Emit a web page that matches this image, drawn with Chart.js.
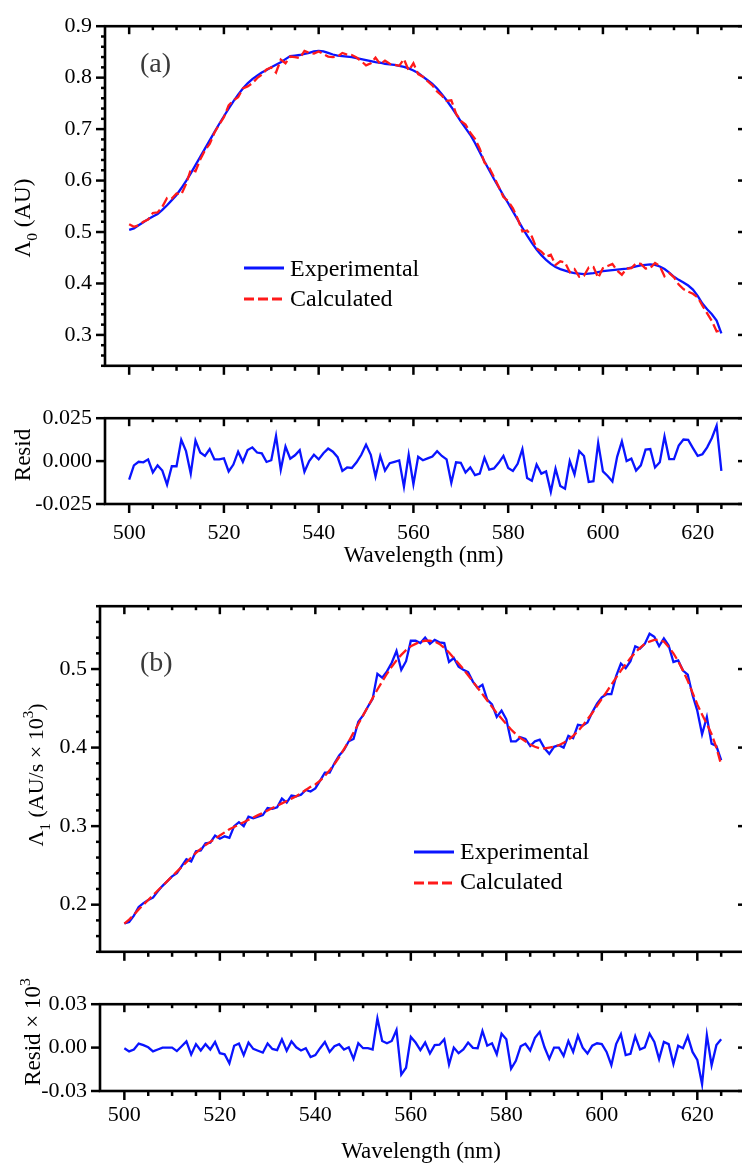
<!DOCTYPE html>
<html>
<head>
<meta charset="utf-8">
<script src="https://cdn.jsdelivr.net/npm/chart.js@4.4.0/dist/chart.umd.min.js"></script>
<style>
  html, body { margin: 0; padding: 0; background: #fff; overflow: hidden; width: 742px; height: 1164px; }
  .box { position: absolute; left: 0; width: 760px; }
  canvas { display: block; }
</style>
</head>
<body>
<div class="box" style="top:0px"><canvas id="chartA" width="760" height="392"></canvas></div>
<div class="box" style="top:392px"><canvas id="residA" width="760" height="188"></canvas></div>
<div class="box" style="top:580px"><canvas id="chartB" width="760" height="398"></canvas></div>
<div class="box" style="top:978px"><canvas id="residB" width="760" height="186"></canvas></div>
<script>
// ----- data (1 nm steps) -----
const wavelength = [
  500,501,502,503,504,505,506,507,508,509,510,511,512,513,514,515,516,517,518,519,
  520,521,522,523,524,525,526,527,528,529,530,531,532,533,534,535,536,537,538,539,
  540,541,542,543,544,545,546,547,548,549,550,551,552,553,554,555,556,557,558,559,
  560,561,562,563,564,565,566,567,568,569,570,571,572,573,574,575,576,577,578,579,
  580,581,582,583,584,585,586,587,588,589,590,591,592,593,594,595,596,597,598,599,
  600,601,602,603,604,605,606,607,608,609,610,611,612,613,614,615,616,617,618,619,
  620,621,622,623,624,625
];

// (a) Lambda_0
const expA = [
  0.504,0.507,0.513,0.519,0.525,0.530,0.535,0.543,0.552,0.562,
  0.572,0.585,0.599,0.614,0.630,0.646,0.662,0.678,0.694,0.710,
  0.725,0.740,0.754,0.767,0.779,0.789,0.797,0.804,0.810,0.815,
  0.820,0.825,0.830,0.836,0.842,0.843,0.844,0.846,0.848,0.851,
  0.852,0.851,0.848,0.845,0.843,0.842,0.841,0.840,0.838,0.836,
  0.834,0.832,0.830,0.829,0.827,0.826,0.825,0.823,0.821,0.818,
  0.814,0.809,0.802,0.795,0.788,0.779,0.768,0.756,0.743,0.729,
  0.715,0.702,0.689,0.673,0.655,0.637,0.620,0.603,0.587,0.571,
  0.556,0.540,0.524,0.508,0.493,0.479,0.466,0.455,0.446,0.438,
  0.432,0.428,0.425,0.422,0.420,0.419,0.418,0.419,0.420,0.422,
  0.424,0.425,0.426,0.427,0.428,0.429,0.431,0.433,0.435,0.436,
  0.437,0.436,0.433,0.428,0.421,0.413,0.407,0.402,0.396,0.388,
  0.376,0.361,0.350,0.340,0.328,0.303
];
const calcA = [
  0.515,0.510,0.513,0.520,0.524,0.537,0.538,0.549,0.566,0.565,
  0.575,0.573,0.593,0.621,0.618,0.641,0.659,0.671,0.693,0.709,
  0.723,0.746,0.756,0.762,0.779,0.783,0.789,0.799,0.806,0.816,
  0.820,0.810,0.835,0.828,0.841,0.840,0.838,0.852,0.848,0.847,
  0.851,0.846,0.841,0.840,0.841,0.848,0.845,0.844,0.839,0.832,
  0.824,0.828,0.839,0.826,0.833,0.827,0.825,0.823,0.836,0.814,
  0.828,0.807,0.802,0.793,0.785,0.773,0.765,0.755,0.756,0.730,
  0.716,0.709,0.693,0.681,0.662,0.635,0.625,0.607,0.588,0.568,
  0.560,0.546,0.526,0.501,0.503,0.491,0.468,0.462,0.452,0.456,
  0.436,0.443,0.441,0.422,0.428,0.413,0.415,0.431,0.432,0.411,
  0.430,0.434,0.438,0.425,0.417,0.429,0.430,0.439,0.438,0.429,
  0.430,0.440,0.434,0.414,0.420,0.412,0.398,0.389,0.384,0.380,
  0.373,0.357,0.342,0.327,0.307,0.309
];
const residA = [
  -0.0108,-0.0025,-0.0004,-0.0007,0.0010,-0.0066,-0.0025,-0.0055,-0.0137,-0.0030,
  -0.0030,0.0124,0.0058,-0.0073,0.0120,0.0050,0.0030,0.0070,0.0010,0.0010,
  0.0016,-0.0060,-0.0020,0.0055,-0.0004,0.0064,0.0080,0.0050,0.0045,-0.0005,
  0.0005,0.0147,-0.0050,0.0085,0.0014,0.0034,0.0064,-0.0062,0.0000,0.0037,
  0.0010,0.0046,0.0073,0.0055,0.0023,-0.0057,-0.0037,-0.0040,-0.0007,0.0037,
  0.0096,0.0037,-0.0090,0.0030,-0.0055,-0.0012,-0.0004,0.0004,-0.0149,0.0037,
  -0.0135,0.0025,0.0005,0.0016,0.0027,0.0058,0.0030,0.0010,-0.0126,-0.0007,
  -0.0010,-0.0066,-0.0037,-0.0082,-0.0073,0.0020,-0.0050,-0.0043,-0.0010,0.0030,
  -0.0040,-0.0057,-0.0016,0.0070,-0.0099,-0.0115,-0.0020,-0.0073,-0.0060,-0.0179,
  -0.0044,-0.0145,-0.0161,0.0000,-0.0078,0.0058,0.0030,-0.0122,-0.0117,0.0106,
  -0.0060,-0.0087,-0.0119,0.0025,0.0115,0.0000,0.0014,-0.0055,-0.0025,0.0067,
  0.0070,-0.0037,-0.0007,0.0144,0.0012,0.0012,0.0090,0.0126,0.0124,0.0076,
  0.0030,0.0040,0.0080,0.0135,0.0207,-0.0057
];

// (b) Lambda_1
const expB = [
  0.176,0.178,0.186,0.197,0.202,0.206,0.209,0.217,0.224,0.230,
  0.236,0.240,0.249,0.258,0.255,0.268,0.269,0.278,0.279,0.288,
  0.284,0.287,0.285,0.300,0.305,0.300,0.312,0.310,0.312,0.314,
  0.323,0.322,0.324,0.335,0.330,0.339,0.338,0.340,0.346,0.344,
  0.348,0.358,0.368,0.368,0.380,0.390,0.397,0.408,0.411,0.433,
  0.441,0.452,0.462,0.494,0.489,0.497,0.508,0.523,0.499,0.510,
  0.536,0.536,0.533,0.540,0.532,0.537,0.534,0.533,0.509,0.514,
  0.503,0.499,0.496,0.484,0.476,0.480,0.461,0.455,0.439,0.447,
  0.436,0.408,0.408,0.413,0.411,0.402,0.408,0.410,0.399,0.392,
  0.401,0.403,0.400,0.415,0.412,0.429,0.428,0.432,0.445,0.456,
  0.464,0.468,0.468,0.491,0.507,0.501,0.510,0.529,0.526,0.532,
  0.545,0.541,0.529,0.539,0.530,0.509,0.511,0.498,0.493,0.467,
  0.447,0.417,0.439,0.405,0.402,0.384
];
const calcB = [
  0.176,0.181,0.187,0.194,0.200,0.206,0.212,0.218,0.224,0.230,
  0.236,0.242,0.248,0.254,0.260,0.266,0.271,0.276,0.280,0.284,
  0.288,0.292,0.296,0.299,0.302,0.305,0.308,0.311,0.314,0.317,
  0.320,0.323,0.326,0.329,0.332,0.335,0.338,0.342,0.346,0.350,
  0.353,0.358,0.364,0.371,0.379,0.388,0.398,0.408,0.419,0.430,
  0.441,0.452,0.463,0.474,0.484,0.494,0.503,0.511,0.518,0.524,
  0.529,0.532,0.535,0.536,0.536,0.535,0.532,0.527,0.521,0.514,
  0.507,0.500,0.492,0.484,0.476,0.468,0.460,0.452,0.444,0.437,
  0.430,0.423,0.417,0.412,0.408,0.404,0.401,0.399,0.399,0.400,
  0.401,0.403,0.406,0.410,0.415,0.421,0.428,0.436,0.444,0.453,
  0.462,0.471,0.480,0.489,0.498,0.506,0.514,0.521,0.527,0.532,
  0.535,0.537,0.537,0.535,0.528,0.520,0.510,0.498,0.485,0.470,
  0.455,0.442,0.430,0.417,0.400,0.378
];
const residB = [
  -0.0004,-0.0026,-0.0013,0.0028,0.0017,0.0002,-0.0026,-0.0013,0.0000,0.0000,
  0.0000,-0.0024,0.0009,0.0043,-0.0048,0.0024,-0.0020,0.0024,-0.0013,0.0039,
  -0.0039,-0.0046,-0.0109,0.0013,0.0028,-0.0052,0.0035,-0.0009,-0.0022,-0.0035,
  0.0028,-0.0009,-0.0017,0.0057,-0.0022,0.0043,0.0002,-0.0020,-0.0004,-0.0065,
  -0.0052,-0.0004,0.0039,-0.0030,0.0009,0.0024,-0.0013,0.0002,-0.0078,0.0030,
  -0.0004,-0.0004,-0.0013,0.0202,0.0046,0.0030,0.0046,0.0122,-0.0187,-0.0139,
  0.0074,0.0035,-0.0017,0.0035,-0.0041,0.0017,0.0020,0.0057,-0.0117,0.0000,
  -0.0039,-0.0013,0.0035,-0.0002,-0.0004,0.0115,0.0013,0.0030,-0.0046,0.0096,
  0.0057,-0.0146,-0.0091,0.0009,0.0026,-0.0020,0.0067,0.0109,0.0002,-0.0078,
  0.0000,0.0000,-0.0057,0.0046,-0.0030,0.0083,0.0000,-0.0041,0.0013,0.0030,
  0.0024,-0.0030,-0.0122,0.0024,0.0093,-0.0052,-0.0043,0.0078,-0.0013,0.0002,
  0.0096,0.0039,-0.0080,0.0039,0.0024,-0.0113,0.0013,-0.0004,0.0078,-0.0030,
  -0.0085,-0.0254,0.0087,-0.0122,0.0017,0.0057
];

// tick labels
const xTicks = [500, 520, 540, 560, 580, 600, 620];
const yTicksA = [0.3, 0.4, 0.5, 0.6, 0.7, 0.8, 0.9];
const yTicksResidA = [-0.025, 0, 0.025];
const yTicksB = [0.2, 0.3, 0.4, 0.5];
const yTicksResidB = [-0.03, 0, 0.03];

const FONT = "'Liberation Serif', 'Times New Roman', serif";
const BLUE = '#0a14ff';
const RED = '#ff1a1a';

function pts(ys) {
  return wavelength.map((w, i) => ({ x: w, y: ys[i] }));
}

// rich text: parts with subscripts / superscripts, optionally rotated
function drawRich(ctx, parts, x, y, size, rot, align, color) {
  ctx.save();
  ctx.translate(x, y);
  if (rot) ctx.rotate(-Math.PI / 2);
  ctx.textBaseline = 'alphabetic';
  ctx.textAlign = 'left';
  ctx.fillStyle = color || '#000';
  let w = 0;
  parts.forEach(p => {
    ctx.font = ((p.sub || p.sup) ? size * 0.68 : size) + 'px ' + FONT;
    w += ctx.measureText(p.t).width;
  });
  let cx = align === 'center' ? -w / 2 : 0;
  parts.forEach(p => {
    ctx.font = ((p.sub || p.sup) ? size * 0.68 : size) + 'px ' + FONT;
    const dy = p.sub ? size * 0.3 : (p.sup ? -size * 0.45 : 0);
    ctx.fillText(p.t, cx, dy);
    cx += ctx.measureText(p.t).width;
  });
  ctx.restore();
}

// frame + major/minor tick marks (outward left/bottom, inward top/right)
function makeOverlay(cfg) {
  return {
    id: 'overlay',
    afterDraw(chart) {
      const { ctx, chartArea: a, scales: { x, y } } = chart;
      ctx.save();
      ctx.strokeStyle = '#000';
      ctx.lineWidth = 2.5;
      const seg = (x1, y1, x2, y2) => { ctx.beginPath(); ctx.moveTo(x1, y1); ctx.lineTo(x2, y2); ctx.stroke(); };

      for (let k = Math.ceil(x.min / 5); k <= Math.floor(x.max / 5); k++) {
        const v = k * 5, px = x.getPixelForValue(v);
        if (px < a.left + 2 || px > a.right - 2) continue;
        const major = v % 20 === 0;
        seg(px, a.bottom, px, a.bottom + (major ? 9 : 5));
        seg(px, a.top, px, a.top + (major ? 8 : 4));
      }
      const step = cfg.yMinor || cfg.yMajor;
      for (let k = Math.ceil(y.min / step - 1e-6); k <= Math.floor(y.max / step + 1e-6); k++) {
        const v = k * step, py = y.getPixelForValue(v);
        const r = v / cfg.yMajor;
        const major = Math.abs(r - Math.round(r)) < 1e-6;
        if (py < a.top - 1 || py > a.bottom + 1) continue;
        seg(a.left, py, a.left - (major ? 9 : 4), py);
        seg(a.right, py, a.right - (major ? 8 : 4), py);
      }
      ctx.lineWidth = 2.6;
      ctx.strokeRect(a.left, a.top, a.right - a.left, a.bottom - a.top);

      (cfg.texts || []).forEach(t => drawRich(ctx, t.parts, t.x === 'mid' ? (a.left + a.right) / 2 - 2 : t.x, t.y, t.size, t.rot, t.align, t.color));

      if (cfg.legend) {
        const L = cfg.legend;
        chart.data.datasets.forEach((ds, i) => {
          ctx.save();
          ctx.strokeStyle = ds.borderColor;
          ctx.lineWidth = 3;
          ctx.setLineDash(ds.borderDash || []);
          seg(L.x1, L.lineY[i], L.x2, L.lineY[i]);
          ctx.restore();
          drawRich(ctx, [{ t: ds.label }], L.tx, L.baseY[i], 24, false, 'left');
        });
      }
      ctx.restore();
    }
  };
}

function buildChart(id, c) {
  const datasets = c.series.map(s => ({
    label: s.label,
    data: pts(s.data),
    borderColor: s.color,
    borderWidth: 2.3,
    borderDash: s.dash,
    pointRadius: 0,
    fill: false,
    tension: 0,
    order: s.order
  }));
  return new Chart(document.getElementById(id), {
    type: 'line',
    data: { datasets },
    options: {
      responsive: false,
      animation: false,
      events: [],
      layout: { padding: { top: c.padTop, right: 14, left: 0, bottom: 0 } },
      plugins: { legend: { display: false }, tooltip: { enabled: false } },
      scales: {
        x: {
          type: 'linear', min: 494.9, max: 630.2,
          afterBuildTicks: s => { s.ticks = xTicks.map(v => ({ value: v })); },
          afterFit: s => { s.height = c.bottomH; },
          grid: { display: false, drawTicks: false },
          border: { display: false },
          ticks: { display: c.xLabels, padding: c.xPad || 0, autoSkip: false, maxRotation: 0,
                   color: '#000', font: { family: FONT, size: 22 }, callback: v => String(v) }
        },
        y: {
          min: c.yMin, max: c.yMax,
          afterBuildTicks: s => { s.ticks = c.yTicks.map(v => ({ value: v })); },
          afterFit: s => { s.width = c.leftW; },
          grid: { display: false, drawTicks: false },
          border: { display: false },
          ticks: { padding: 13, color: '#000', font: { family: FONT, size: 22 },
                   callback: v => v.toFixed(c.dec) }
        }
      }
    },
    plugins: [makeOverlay(c)]
  });
}

buildChart('chartA', {
  series: [
    { label: 'Experimental', data: expA, color: BLUE, order: 2 },
    { label: 'Calculated', data: calcA, color: RED, dash: [10, 4], order: 1 }
  ],
  padTop: 22, bottomH: 15, leftW: 105, xLabels: false,
  yMin: 0.24, yMax: 0.9, yTicks: yTicksA, dec: 1, yMajor: 0.1, yMinor: 0.02,
  texts: [
    { parts: [{ t: 'Λ' }, { t: '0', sub: true }, { t: ' (AU)' }], x: 30, y: 218, size: 23, rot: true, align: 'center' },
    { parts: [{ t: '(a)' }], x: 140, y: 72, size: 28, color: '#3a3a3a' }
  ],
  legend: { x1: 244, x2: 284, tx: 290, lineY: [268, 299], baseY: [276, 306] }
});

buildChart('residA', {
  series: [{ label: 'Resid', data: residA, color: BLUE, order: 1 }],
  padTop: 18, bottomH: 76, leftW: 105, xLabels: true, xPad: 16,
  yMin: -0.025, yMax: 0.025, yTicks: yTicksResidA, dec: 3, yMajor: 0.025, yMinor: 0,
  texts: [
    { parts: [{ t: 'Resid' }], x: 30, y: 63, size: 23, rot: true, align: 'center' },
    { parts: [{ t: 'Wavelength (nm)' }], x: 'mid', y: 170, size: 23, align: 'center' }
  ]
});

buildChart('chartB', {
  series: [
    { label: 'Experimental', data: expB, color: BLUE, order: 2 },
    { label: 'Calculated', data: calcB, color: RED, dash: [10, 4], order: 1 }
  ],
  padTop: 25.5, bottomH: 15, leftW: 100, xLabels: false,
  yMin: 0.14, yMax: 0.58, yTicks: yTicksB, dec: 1, yMajor: 0.1, yMinor: 0.02,
  texts: [
    { parts: [{ t: 'Λ' }, { t: '1', sub: true }, { t: ' (AU/s × 10' }, { t: '3', sup: true }, { t: ')' }], x: 43, y: 195, size: 22, rot: true, align: 'center' },
    { parts: [{ t: '(b)' }], x: 140, y: 91, size: 28, color: '#3a3a3a' }
  ],
  legend: { x1: 414, x2: 454, tx: 460, lineY: [272, 303], baseY: [279, 309] }
});

buildChart('residB', {
  series: [{ label: 'Resid', data: residB, color: BLUE, order: 1 }],
  padTop: 21, bottomH: 73, leftW: 100, xLabels: true, xPad: 11,
  yMin: -0.03, yMax: 0.03, yTicks: yTicksResidB, dec: 2, yMajor: 0.03, yMinor: 0,
  texts: [
    { parts: [{ t: 'Resid × 10' }, { t: '3', sup: true }], x: 40, y: 54, size: 23, rot: true, align: 'center' },
    { parts: [{ t: 'Wavelength (nm)' }], x: 'mid', y: 180, size: 23, align: 'center' }
  ]
});
</script>
</body>
</html>
